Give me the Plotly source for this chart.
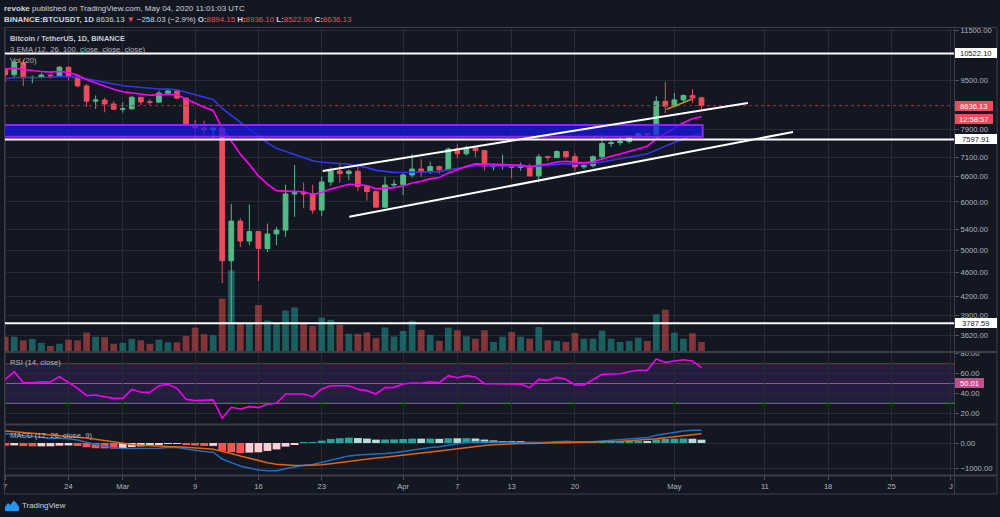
import math
import pandas as pd
import plotly.graph_objects as go

# ---------------- data ----------------
dates = pd.date_range("2020-02-17", periods=78, freq="D")

opens = [9917, 9706, 10164, 9600, 9610, 9697, 9665, 9989, 9664, 9305,
         8785, 8823, 8692, 8523, 8531, 8915, 8760, 8750, 9054, 9131,
         8886, 8033, 7936, 7885, 7935, 4800, 5578, 5172, 5361, 5028,
         5313, 5391, 6183, 6208, 6186, 5816, 6469, 6744, 6677, 6737,
         6359, 6236, 5881, 6394, 6410, 6642, 6794, 6734, 6857, 6772,
         7329, 7197, 7361, 7284, 6858, 6876, 6903, 6837, 6868, 6621,
         7116, 7096, 7257, 7120, 6850, 6879, 7118, 7482, 7505, 7538,
         7694, 7774, 7738, 8778, 8620, 8826, 8972, 8894.15]
highs = [9964, 10250, 10250, 9680, 9783, 9714, 10029, 10027, 9664, 9374,
         8975, 8900, 8790, 8745, 8965, 8919, 8848, 9142, 9168, 9185,
         8886, 8177, 8150, 7980, 7966, 5955, 5640, 5940, 5365, 5525,
         5457, 6400, 6900, 6456, 6403, 6600, 6833, 6957, 6780, 6871,
         6360, 6266, 6599, 6523, 6679, 7198, 7050, 6990, 6885, 7369,
         7459, 7420, 7371, 7295, 6944, 7177, 6903, 6960, 6933, 7190,
         7150, 7293, 7258, 7220, 6944, 7156, 7746, 7615, 7700, 7700,
         7795, 7780, 8952, 9460, 9059, 9010, 9191, 8936.10]
lows = [9452, 9576, 9300, 9400, 9570, 9560, 9662, 9507, 9260, 8600,
        8531, 8420, 8500, 8411, 8502, 8651, 8660, 8740, 8996, 8850,
        8000, 7632, 7730, 7590, 4410, 3782, 5055, 5093, 4445, 4965,
        5093, 5255, 5670, 5861, 5734, 5688, 6377, 6450, 6510, 6254,
        6024, 5866, 5858, 6330, 6150, 6575, 6600, 6666, 6673, 6771,
        7077, 7150, 7108, 6754, 6760, 6780, 6555, 6750, 6605, 6463,
        7001, 7079, 7055, 6751, 6793, 6835, 7013, 7388, 7431, 7480,
        7630, 7660, 7736, 8401, 8613, 8753, 8717, 8522.00]
closes = [9706, 10164, 9600, 9610, 9697, 9665, 9989, 9664, 9305, 8785,
          8823, 8692, 8523, 8531, 8915, 8760, 8750, 9054, 9131, 8886,
          8033, 7936, 7885, 7935, 4800, 5578, 5172, 5361, 5028, 5313,
          5391, 6183, 6208, 6186, 5816, 6469, 6744, 6677, 6737, 6359,
          6236, 5881, 6394, 6410, 6642, 6794, 6734, 6857, 6772, 7329,
          7197, 7361, 7284, 6858, 6876, 6903, 6837, 6868, 6621, 7116,
          7096, 7257, 7120, 6850, 6879, 7118, 7482, 7505, 7538, 7694,
          7774, 7738, 8778, 8620, 8826, 8972, 8894, 8636.13]
volumes = [71, 71, 53, 60, 40, 25, 36, 56, 53, 91,
           71, 69, 36, 41, 60, 53, 36, 56, 43, 43,
           74, 116, 83, 78, 260, 400, 136, 139, 228, 151,
           136, 201, 216, 134, 124, 166, 155, 130, 85, 85,
           92, 65, 117, 72, 99, 150, 105, 80, 50, 116,
           103, 73, 61, 103, 45, 71, 94, 71, 61, 119,
           53, 50, 45, 89, 61, 61, 101, 61, 45, 50,
           66, 50, 182, 205, 91, 61, 88, 45]
ema12 = [9923, 9955, 9900, 9855, 9830, 9805, 9830, 9790, 9700, 9530,
         9410, 9300, 9190, 9100, 9070, 9025, 8985, 8995, 9015, 8995,
         8850, 8710, 8583, 8483, 7916, 7556, 7189, 6908, 6619, 6418,
         6260, 6248, 6242, 6233, 6169, 6215, 6296, 6355, 6414, 6406,
         6380, 6303, 6317, 6331, 6379, 6443, 6488, 6545, 6580, 6695,
         6772, 6863, 6928, 6917, 6911, 6910, 6899, 6894, 6852, 6893,
         6924, 6975, 6997, 6974, 6959, 6983, 7060, 7128, 7191, 7268,
         7346, 7406, 7617, 7771, 7933, 8093, 8216, 8281]
ema26 = [9560, 9605, 9606, 9605, 9612, 9616, 9644, 9645, 9620, 9558,
         9504, 9444, 9376, 9313, 9284, 9245, 9208, 9197, 9192, 9169,
         9085, 9000, 8917, 8844, 8544, 8324, 8091, 7889, 7677, 7502,
         7346, 7260, 7182, 7108, 7012, 6972, 6955, 6934, 6919, 6878,
         6830, 6760, 6733, 6709, 6704, 6711, 6713, 6724, 6728, 6773,
         6804, 6845, 6878, 6877, 6877, 6879, 6876, 6875, 6856, 6875,
         6891, 6918, 6933, 6927, 6923, 6937, 6977, 7016, 7055, 7102,
         7152, 7195, 7312, 7409, 7514, 7622, 7716, 7784]
rsi = [54.2, 61.9, 50.8, 50.8, 51.8, 51.5, 56.9, 50.8, 45.1, 37.7,
       38.4, 36.7, 35.0, 35.0, 44.1, 41.1, 41.1, 47.8, 49.2, 45.1,
       34.0, 32.7, 32.7, 33.4, 14.9, 26.0, 24.3, 26.6, 25.6, 29.0,
       30.0, 39.4, 39.4, 39.4, 36.7, 44.5, 47.8, 47.5, 47.8, 44.1,
       42.8, 39.4, 45.8, 46.1, 49.5, 50.5, 50.2, 51.8, 50.8, 57.9,
       55.9, 57.9, 56.6, 49.8, 49.8, 49.8, 49.5, 49.5, 45.8, 54.2,
       53.2, 56.2, 54.2, 48.5, 48.5, 53.5, 59.2, 59.6, 59.9, 61.9,
       63.3, 63.3, 74.7, 71.3, 73.0, 74.0, 72.7, 66.0]
macd = [363, 350, 294, 250, 218, 189, 186, 170, 120, 30,
        -60, -120, -186, -213, -214, -220, -223, -202, -177, -174,
        -235, -290, -334, -361, -628, -768, -902, -981, -1058, -1084,
        -1086, -1012, -940, -875, -843, -757, -659, -579, -505, -472,
        -450, -457, -416, -378, -325, -268, -225, -179, -148, -78,
        -32, 18, 50, 40, 34, 31, 23, 19, -4, 18,
        33, 57, 64, 47, 36, 46, 83, 112, 136, 166,
        194, 211, 305, 362, 419, 471, 500, 497]
signal = [469, 445, 415, 382, 349, 317, 291, 267, 238, 196,
          145, 92, 36, -14, -54, -87, -114, -132, -141, -148,
          -165, -190, -219, -247, -323, -412, -510, -604, -695, -773,
          -836, -871, -885, -883, -875, -851, -813, -766, -714, -666,
          -623, -590, -555, -520, -481, -438, -395, -352, -311, -264,
          -218, -171, -127, -94, -68, -48, -34, -23, -19, -12,
          -3, 9, 20, 25, 27, 31, 41, 55, 71, 90,
          111, 131, 166, 205, 248, 293, 334, 367]
hist = [-106, -95, -121, -132, -131, -128, -105, -97, -118, -166,
        -205, -212, -222, -199, -160, -133, -109, -70, -36, -26,
        -70, -100, -115, -114, -305, -356, -392, -377, -363, -311,
        -250, -141, -55, 8, 32, 94, 154, 187, 209, 194,
        173, 133, 139, 142, 156, 170, 170, 173, 163, 186,
        186, 189, 177, 134, 102, 79, 57, 42, 15, 30,
        36, 48, 44, 22, 9, 15, 42, 57, 65, 76,
        83, 80, 139, 157, 171, 178, 166, 130]

price_ticks = [3620, 3900, 4200, 4600, 5000, 5400, 6000, 6600, 7100, 7900, 9500, 11500]
rsi_ticks = [20, 40, 60, 80]
macd_ticks = [-1000, 0]
macd_ticktext = ["\u22121000.00", "0.00"]
x_tickvals = ["2020-02-17", "2020-02-24", "2020-03-01", "2020-03-09", "2020-03-16",
              "2020-03-23", "2020-04-01", "2020-04-07", "2020-04-13", "2020-04-20",
              "2020-05-01", "2020-05-11", "2020-05-18", "2020-05-25", "2020-05-31 14:00"]
x_ticktext = ["7", "24", "Mar", "9", "16", "23", "Apr", "7", "13", "20",
              "May", "11", "18", "25", "J"]

level_lines = [10522.10, 7597.91, 3787.59]
last_price = 8636.13
rsi_mid_label = 50.01
zone_x = ["2020-02-16 06:00", "2020-05-04 03:00"]
zone_y = [7679, 8025]
upper_channel_x = ["2020-03-23 02:38", "2020-05-09 03:22"]
upper_channel_y = [6744, 8723]
lower_channel_x = ["2020-03-26 01:12", "2020-05-14 02:53"]
lower_channel_y = [5672, 7818]
small_line_x = ["2020-04-30 03:36", "2020-05-02 21:36"]
small_line_y = [8518, 8847]
full_span_x = ["2020-02-15", "2020-06-05"]

# ---------------- style ----------------
BG = "#131722"
GRID = "#272b36"
TXT = "#b2b5be"
UP = "#53b987"
DOWN = "#eb4d5c"
FONT = "Liberation Sans, Arial, sans-serif"

W, H = 1000, 517
ML, MR, MT, MB = 4, 46, 27, 42
PW = W - ML - MR
PH = H - MT - MB


def px_x(px):
    return (px - ML) / PW


def px_y(py):
    return (H - MB - py) / PH


price_dom = [px_y(351), 1]
rsi_dom = [px_y(424), px_y(353)]
macd_dom = [0, px_y(425)]
x_range = ["2020-02-16 20:49", "2020-05-31 22:05"]
DAY = 86400000

vol_colors = ["rgba(38,166,154,0.5)" if c >= o else "rgba(239,83,80,0.5)" for o, c in zip(opens, closes)]
hist_colors = []
prev = None
for h in hist:
    rising = prev is not None and h > prev
    if h >= 0:
        hist_colors.append("#26a69a" if rising else "#b2dfdb")
    else:
        hist_colors.append("#ffcdd2" if rising else "#ff5252")
    prev = h

fig = go.Figure()

# volume (base axis y)
fig.add_trace(go.Bar(x=dates, y=volumes, marker=dict(color=vol_colors, line=dict(width=0)),
                     width=0.74 * DAY, xaxis="x", yaxis="y", hoverinfo="skip"))
# EMAs
fig.add_trace(go.Scatter(x=dates, y=ema26, mode="lines", line=dict(color="#3535f0", width=1.6),
                         xaxis="x", yaxis="y2", hoverinfo="skip"))
fig.add_trace(go.Scatter(x=dates, y=ema12, mode="lines", line=dict(color="#ff00ff", width=1.6),
                         xaxis="x", yaxis="y2", hoverinfo="skip"))
# zone box
fig.add_trace(go.Scatter(x=[zone_x[0], zone_x[1], zone_x[1], zone_x[0], zone_x[0]],
                         y=[zone_y[0], zone_y[0], zone_y[1], zone_y[1], zone_y[0]],
                         mode="lines", fill="toself", fillcolor="rgba(22,22,235,0.72)",
                         line=dict(color="#8a2be2", width=2), xaxis="x", yaxis="y2", hoverinfo="skip"))
# last price dotted line
fig.add_trace(go.Scatter(x=full_span_x, y=[last_price, last_price], mode="lines",
                         line=dict(color="#a3323f", width=1, dash="dot"), xaxis="x", yaxis="y2",
                         hoverinfo="skip"))
# horizontal levels
for lv in level_lines:
    fig.add_trace(go.Scatter(x=full_span_x, y=[lv, lv], mode="lines",
                             line=dict(color="#ffffff", width=2), xaxis="x", yaxis="y2", hoverinfo="skip"))
# candles
fig.add_trace(go.Candlestick(x=dates, open=opens, high=highs, low=lows, close=closes,
                             increasing=dict(line=dict(color=UP, width=1), fillcolor=UP),
                             decreasing=dict(line=dict(color=DOWN, width=1), fillcolor=DOWN),
                             whiskerwidth=0, xaxis="x", yaxis="y2", hoverinfo="skip"))
# channel lines
fig.add_trace(go.Scatter(x=upper_channel_x, y=upper_channel_y, mode="lines",
                         line=dict(color="#ffffff", width=2), xaxis="x", yaxis="y2", hoverinfo="skip"))
fig.add_trace(go.Scatter(x=lower_channel_x, y=lower_channel_y, mode="lines",
                         line=dict(color="#ffffff", width=2), xaxis="x", yaxis="y2", hoverinfo="skip"))
fig.add_trace(go.Scatter(x=small_line_x, y=small_line_y, mode="lines",
                         line=dict(color="#a8a021", width=1.5), xaxis="x", yaxis="y2", hoverinfo="skip"))

# RSI
fig.add_trace(go.Scatter(x=dates, y=rsi, mode="lines", line=dict(color="#f200f2", width=1.6),
                         xaxis="x2", yaxis="y3", hoverinfo="skip"))

# MACD
fig.add_trace(go.Bar(x=dates, y=hist, marker=dict(color=hist_colors, line=dict(width=0)),
                     width=0.86 * DAY, xaxis="x3", yaxis="y4", hoverinfo="skip"))
fig.add_trace(go.Scatter(x=dates, y=macd, mode="lines", line=dict(color="#1f6fc5", width=1.5),
                         xaxis="x3", yaxis="y4", hoverinfo="skip"))
fig.add_trace(go.Scatter(x=dates, y=signal, mode="lines", line=dict(color="#e0650f", width=1.5),
                         xaxis="x3", yaxis="y4", hoverinfo="skip"))

axis_common_x = dict(type="date", range=x_range, tickvals=x_tickvals, ticktext=x_ticktext,
                     showgrid=True, gridcolor=GRID, gridwidth=1, zeroline=False, showline=False,
                     fixedrange=True)
TICK_SIZE = 7.6
ytick_font = dict(family=FONT, size=TICK_SIZE, color=TXT)

shapes = []
# RSI band and levels
shapes.append(dict(type="rect", xref="paper", yref="y3", x0=0, x1=1, y0=30, y1=70,
                   fillcolor="rgba(120,60,200,0.18)", line=dict(width=0), layer="below"))
for lvl, col in [(70, "#c8102e"), (50, "#a2508e"), (30, "#1db31d")]:
    shapes.append(dict(type="line", xref="paper", yref="y3", x0=0, x1=1, y0=lvl, y1=lvl,
                       line=dict(color=col, width=1), layer="between"))
# frame & separators
FR = "#3a3e4a"
shapes.append(dict(type="rect", xref="paper", yref="paper", x0=px_x(4.5), x1=px_x(997),
                   y0=px_y(494), y1=px_y(27.5), line=dict(color=FR, width=1), layer="above"))
shapes.append(dict(type="line", xref="paper", yref="paper", x0=px_x(954.5), x1=px_x(954.5),
                   y0=px_y(494), y1=px_y(27.5), line=dict(color=FR, width=1), layer="above"))
for sy in [352, 424.5, 475.5]:
    shapes.append(dict(type="line", xref="paper", yref="paper", x0=px_x(4.5), x1=px_x(997),
                       y0=px_y(sy), y1=px_y(sy), line=dict(color=FR, width=2), layer="above"))
# TradingView logo glyph
logo_pts = [(5, 511), (5, 507), (8, 503), (10.5, 505), (13.5, 500.5), (16.5, 503), (19, 507), (19, 511)]
path = "M " + " L ".join(f"{px_x(a):.5f},{px_y(b):.5f}" for a, b in logo_pts) + " Z"
shapes.append(dict(type="path", xref="paper", yref="paper", path=path,
                   fillcolor="#2196f3", line=dict(width=0), layer="above"))

RED = DOWN
ann = []


def text_ann(px, py, text, size=8, color="#d1d4dc"):
    ann.append(dict(x=px_x(px), y=px_y(py), xref="paper", yref="paper", text=text,
                    xanchor="left", yanchor="middle", showarrow=False, borderpad=0, borderwidth=0,
                    font=dict(family=FONT, size=size, color=color)))


text_ann(4, 8, "<b>revoke</b> published on TradingView.com, May 04, 2020 11:01:03 UTC", 8)
text_ann(4, 19.5,
         "<b>BINANCE:BTCUSDT, 1D</b> 8636.13 <span style='color:%s'>\u25bc</span> \u2212258.03 (\u22122.9%%) "
         "<b>O:</b><span style='color:%s'>8894.15</span> <b>H:</b><span style='color:%s'>8936.10</span> "
         "<b>L:</b><span style='color:%s'>8522.00</span> <b>C:</b><span style='color:%s'>8636.13</span>"
         % (RED, RED, RED, RED, RED), 7.9)
text_ann(10, 38.5, "<b>Bitcoin / TetherUS, 1D, BINANCE</b>", 7.4, "#c9ccd6")
text_ann(10, 50, "3 EMA (12, 26, 100, close, close, close)", 7.7, "#b2b5be")
text_ann(10, 60.5, "Vol (20)", 7.7, "#b2b5be")
text_ann(10, 362, "RSI (14, close)", 7.7, "#b2b5be")
text_ann(10, 435, "MACD (12, 26, close, 9)", 7.7, "#b2b5be")
text_ann(21.5, 505.5, "TradingView", 7.9, "#d1d4dc")


def axis_label(value, yref, text, bg, fg, width, yshift=0, logy=False):
    ann.append(dict(x=px_x(954.5), xref="paper", xanchor="left",
                    y=math.log10(value) if logy else value, yref=yref, yanchor="middle",
                    text=text, showarrow=False, bgcolor=bg, borderpad=1, borderwidth=0,
                    width=width, height=8, align="center", valign="middle",
                    yshift=yshift, font=dict(family=FONT, size=TICK_SIZE, color=fg)))


for lv in level_lines:
    axis_label(lv, "y2", f"{lv:.2f}", "#ffffff", "#131722", 39.5, logy=True)
axis_label(last_price, "y2", f"{last_price:.2f}", RED, "#ffffff", 35.5, logy=True)
axis_label(last_price, "y2", "12:58:57", RED, "#ffffff", 35.5, yshift=-13.3, logy=True)
axis_label(rsi_mid_label, "y3", f"{rsi_mid_label:.2f}", "#c0508c", "#ffffff", 27)

fig.update_layout(
    width=W, height=H, paper_bgcolor=BG, plot_bgcolor=BG,
    margin=dict(l=ML, r=MR, t=MT, b=MB, pad=0),
    showlegend=False, hovermode=False, boxgap=0.25,
    font=dict(family=FONT, size=8, color=TXT),
    xaxis=dict(axis_common_x, domain=[0, 1], anchor="y", showticklabels=False, ticks="",
               rangeslider=dict(visible=False)),
    xaxis2=dict(axis_common_x, domain=[0, 1], anchor="y3", matches="x", showticklabels=False, ticks=""),
    xaxis3=dict(axis_common_x, domain=[0, 1], anchor="y4", matches="x", showticklabels=True,
                ticks="outside", ticklen=4, tickcolor="#50535e",
                tickfont=dict(family=FONT, size=TICK_SIZE, color=TXT)),
    yaxis=dict(domain=price_dom, range=[0, 1608], visible=False, fixedrange=True, anchor="x"),
    yaxis2=dict(overlaying="y", anchor="x", side="right", type="log",
                range=[3.5329, 4.06563], tickvals=price_ticks,
                ticktext=[f"{v:.2f}" for v in price_ticks], showgrid=True, gridcolor=GRID,
                zeroline=False, ticks="outside", ticklen=4, tickcolor="#50535e",
                tickfont=ytick_font, fixedrange=True),
    yaxis3=dict(domain=rsi_dom, anchor="x2", side="right", range=[9.1, 80.8],
                tickvals=rsi_ticks, ticktext=[f"{v:.2f}" for v in rsi_ticks], showgrid=True,
                gridcolor=GRID, zeroline=False, ticks="outside", ticklen=4, tickcolor="#50535e",
                tickfont=ytick_font, fixedrange=True),
    yaxis4=dict(domain=macd_dom, anchor="x3", side="right", range=[-1255, 706],
                tickvals=macd_ticks, ticktext=macd_ticktext, showgrid=True, gridcolor=GRID,
                zeroline=False, ticks="outside", ticklen=4, tickcolor="#50535e",
                tickfont=ytick_font, fixedrange=True),
    shapes=shapes, annotations=ann,
)

fig.write_html("out.html", config={"displayModeBar": False},
               post_script="document.body.style.margin='0px';")
